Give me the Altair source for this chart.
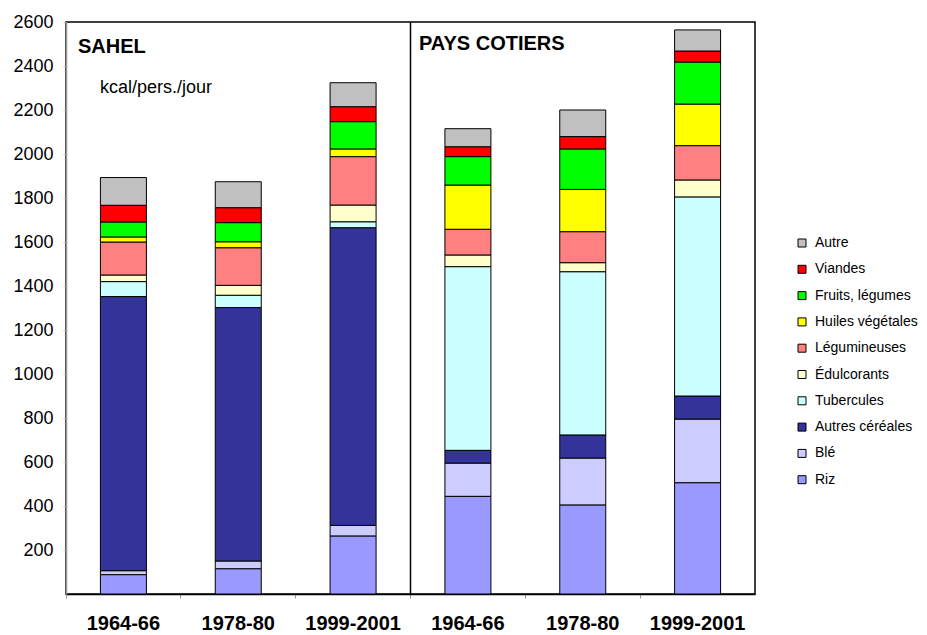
import altair as alt
import pandas as pd

# Columns (region | period)
regions = ["SAHEL", "SAHEL", "SAHEL", "PAYS COTIERS", "PAYS COTIERS", "PAYS COTIERS"]
periods = ["1964-66", "1978-80", "1999-2001", "1964-66", "1978-80", "1999-2001"]

# Food groups, bottom to top of the stack
groups = ["Riz", "Blé", "Autres céréales", "Tubercules", "Édulcorants",
          "Légumineuses", "Huiles végétales", "Fruits, légumes", "Viandes", "Autre"]
colors = ["#9999FF", "#CCCCFF", "#333399", "#CCFFFF", "#FFFFCC",
          "#FF8080", "#FFFF00", "#00FF00", "#FF0000", "#C0C0C0"]

# kcal/pers./jour per column
riz = [88, 115, 264, 444, 405, 506]
ble = [18, 35, 48, 151, 213, 289]
autres_cereales = [1246, 1152, 1353, 58, 105, 105]
tubercules = [68, 56, 27, 835, 742, 905]
edulcorants = [30, 45, 76, 53, 41, 77]
legumineuses = [150, 171, 220, 117, 141, 156]
huiles = [23, 27, 35, 201, 192, 189]
fruits = [68, 87, 124, 129, 184, 191]
viandes = [76, 68, 68, 45, 56, 50]
autre = [126, 118, 109, 82, 121, 96]

y_ticks = [200, 400, 600, 800, 1000, 1200, 1400, 1600, 1800, 2000, 2200, 2400, 2600]

series = [riz, ble, autres_cereales, tubercules, edulcorants,
          legumineuses, huiles, fruits, viandes, autre]
cols = [f"{r}|{p}" for r, p in zip(regions, periods)]

rows = []
for gi, (g, vals) in enumerate(zip(groups, series)):
    for c, v in zip(cols, vals):
        rows.append({"col": c, "groupe": g, "kcal": v, "idx": gi})
df = pd.DataFrame(rows)

FONT = "Liberation Sans"

x_scale = alt.Scale(domain=cols, paddingInner=0, paddingOuter=0)

x_enc = alt.X(
    "col:N",
    sort=cols,
    scale=x_scale,
    axis=alt.Axis(
        title=None,
        labelExpr="split(datum.value, '|')[1]",
        labelFont=FONT, labelFontSize=20, labelFontWeight="bold", labelColor="black",
        labelPadding=15, labelAngle=0,
        domainColor="black", domainWidth=1.5,
        tickColor="#999999", tickSize=4, bandPosition=0,
    ),
)

bars = alt.Chart(df).mark_bar(stroke="black", strokeWidth=1, size=46).encode(
    x=x_enc,
    y=alt.Y(
        "kcal:Q",
        stack="zero",
        scale=alt.Scale(domain=[0, 2600], nice=False),
        axis=alt.Axis(
            title=None, values=y_ticks, grid=False, format="d",
            labelFont=FONT, labelFontSize=18, labelColor="black",
            labelPadding=10, tickSize=3, tickColor="#bbbbbb",
            domainColor="#999999", domainWidth=1.5,
        ),
    ),
    color=alt.Color(
        "groupe:N",
        scale=alt.Scale(domain=groups[::-1], range=colors[::-1]),
        legend=alt.Legend(
            title=None, orient="none", legendX=729, legendY=214,
            symbolType="square", symbolSize=64, symbolStrokeColor="black",
            symbolStrokeWidth=1, labelFont=FONT, labelFontSize=14,
            labelColor="black", rowPadding=12.3, labelOffset=6, padding=0,
        ),
    ),
    order=alt.Order("idx:Q", sort="ascending"),
)

divider = alt.Chart(pd.DataFrame({"col": [cols[3]]})).mark_rule(
    color="black", strokeWidth=1.5
).encode(
    x=alt.X("col:N", sort=cols, bandPosition=0),
    y=alt.datum(0),
    y2=alt.datum(2600),
)

titles = pd.DataFrame({"t": ["SAHEL", "PAYS COTIERS"], "px": [12, 353], "py": [31, 28]})
title_layer = alt.Chart(titles).mark_text(
    font=FONT, fontSize=20, fontWeight="bold", align="left", baseline="alphabetic", color="black"
).encode(text="t:N", x=alt.X("px:Q", scale=None), y=alt.Y("py:Q", scale=None))

unit = alt.Chart(pd.DataFrame({"t": ["kcal/pers./jour"]})).mark_text(
    font=FONT, fontSize=18, align="left", baseline="alphabetic", color="black"
).encode(text="t:N", x=alt.value(34), y=alt.value(71))

chart = alt.layer(bars, divider, title_layer, unit).properties(
    width=689, height=572,
    padding={"left": 58, "top": 14, "right": 164, "bottom": 43},
    autosize=alt.AutoSizeParams(type="none"),
).configure(background="white").configure_view(stroke="black", strokeWidth=1.5)

chart.save("out.html", embed_options={"renderer": "svg", "actions": False})
